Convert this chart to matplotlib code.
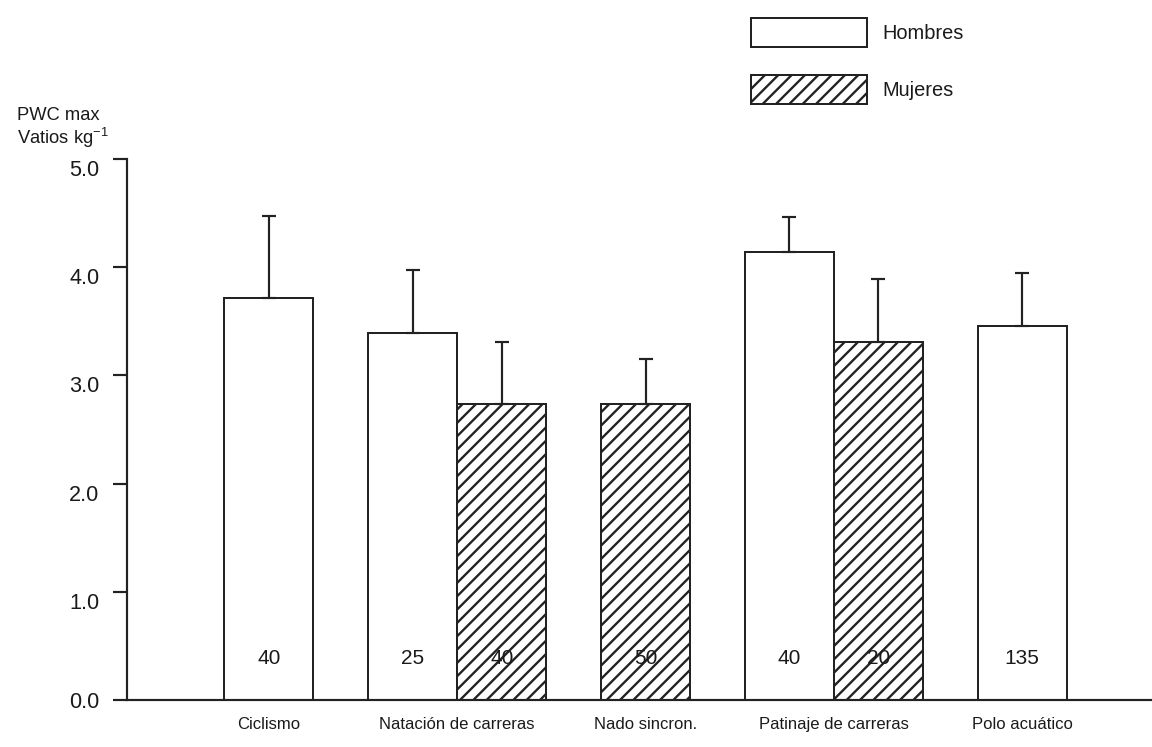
import numpy as np
import matplotlib
matplotlib.use("Agg")
from matplotlib import pyplot as plt
from matplotlib.transforms import ScaledTranslation

plt.rcParams['font.family'] = ['Liberation Sans', 'DejaVu Sans']
plt.rcParams['hatch.linewidth'] = 1.4

deportes = ['Ciclismo', 'Natación de carreras', 'Nado sincron.',
            'Patinaje de carreras', 'Polo acuático']
# PWC max (W/kg); None where there is no group
hombres = [3.72, 3.39, None, 4.14, 3.46]
hombres_sd = [0.75, 0.58, None, 0.32, 0.49]
mujeres = [None, 2.74, 2.74, 3.31, None]
mujeres_sd = [None, 0.57, 0.41, 0.58, None]
n_hombres = ['40', '25', None, '40', '135']
n_mujeres = [None, '40', '50', '20', None]
yticks = [0.0, 1.0, 2.0, 3.0, 4.0, 5.0]

fig = plt.figure(figsize=(9.6, 6.225), dpi=120)
ax = fig.add_axes([0.1102, 0.0630, 0.8898, 0.7241])

w = 0.473
x = np.arange(len(deportes))

def draw(vals, sds, ns, side, hatch, label):
    first = True
    for i in range(len(vals)):
        if vals[i] is None:
            continue
        pair = hombres[i] is not None and mujeres[i] is not None
        xc = x[i] + (side * w / 2 if pair else 0)
        ax.bar(xc, vals[i], w, color='white', edgecolor='#222222',
               linewidth=1.2, hatch=hatch, label=label if first else None,
               zorder=2)
        first = False
        ax.errorbar(xc, vals[i], yerr=[[0], [sds[i]]], fmt='none',
                    ecolor='#222222', elinewidth=1.3, capsize=4, capthick=1.3,
                    zorder=3)
        ax.text(xc, 0.38, ns[i], ha='center', va='center', fontsize=12.5,
                color='#1a1a1a', zorder=4)

draw(hombres, hombres_sd, n_hombres, -1, None, 'Hombres')
draw(mujeres, mujeres_sd, n_mujeres, 1, '///', 'Mujeres')

ax.set_xlim(-0.754, 4.69)
ax.set_ylim(0, 5)
ax.set_yticks(yticks)
ax.set_yticklabels(['%.1f' % t for t in yticks], fontsize=13, color='#1a1a1a')
ax.set_xticks(x)
ax.set_xticklabels(deportes, fontsize=10)
ax.tick_params(axis='x', length=0, pad=10, colors='#1a1a1a')
ax.tick_params(axis='y', length=8.5, width=1.3, pad=8, direction='out',
               colors='#222222')
for lab in ax.get_yticklabels():
    lab.set_color('#1a1a1a')

for lab in ax.get_yticklabels()[1:]:
    lab.set_transform(lab.get_transform() +
                      ScaledTranslation(0, -9 / 120, fig.dpi_scale_trans))

for s in ['top', 'right']:
    ax.spines[s].set_visible(False)
for s in ['left', 'bottom']:
    ax.spines[s].set_linewidth(1.3)
    ax.spines[s].set_color('#222222')

fig.text(0.0148, 1 - 115 / 747, 'PWC max', fontsize=11, va='center',
         color='#1a1a1a')
fig.text(0.0148, 1 - 138 / 747, 'Vatios kg$^{\\mathregular{-1}}$', fontsize=11,
         va='center', color='#1a1a1a')

ax.legend(loc='upper left', bbox_to_anchor=(751 / 1152, 1 - 18 / 747),
          bbox_transform=fig.transFigure, frameon=False, fontsize=12,
          handlelength=5.8, handleheight=1.85, labelspacing=1.4,
          handletextpad=0.75, borderpad=0, borderaxespad=0,
          labelcolor='#1a1a1a')

fig.savefig('out.png', dpi=120)
